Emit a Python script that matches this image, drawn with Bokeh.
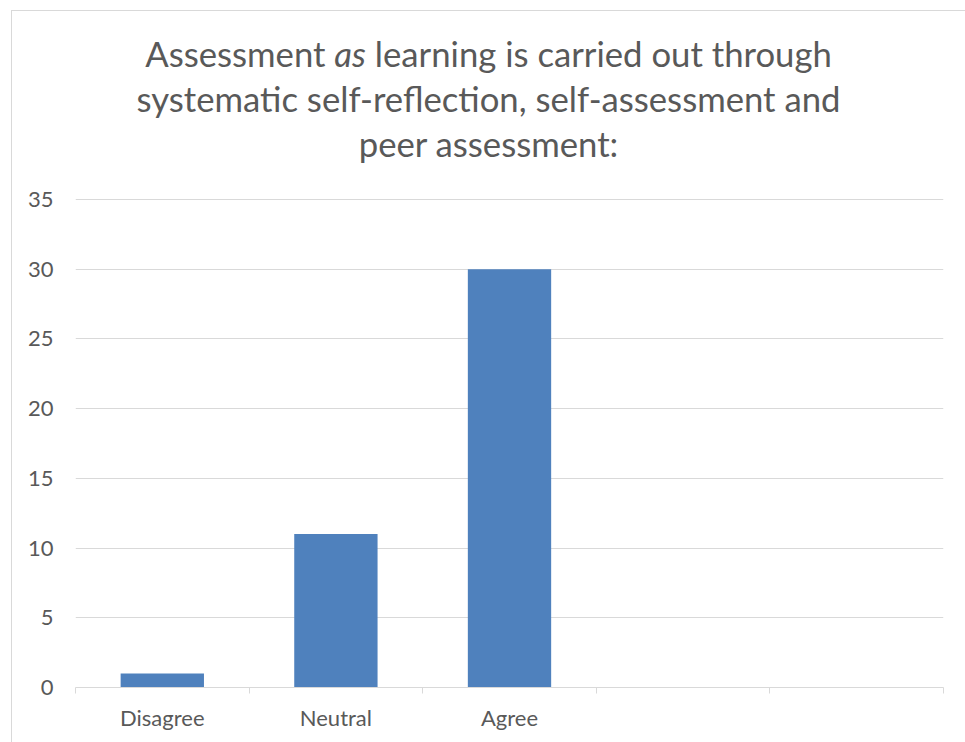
from bokeh.plotting import figure
from bokeh.models import Range1d, FixedTicker, Div
from bokeh.layouts import column
from bokeh.embed import file_html
from bokeh.resources import INLINE

# ---- data ----
categories = ["Disagree", "Neutral", "Agree", "", ""]
values = [1, 11, 30]
y_ticks = [0, 5, 10, 15, 20, 25, 30, 35]
title_lines = ["Assessment <i>as</i> learning is carried out through",
               "systematic self-reflection, self-assessment and",
               "peer assessment:"]

TEXT = "#595959"
GRID = "#d9d9d9"
BAR = "#4F81BD"
FONT = "Lato"

n = len(categories)
centers = [i + 0.5 for i in range(n)]
bounds = [float(i) for i in range(n + 1)]

title_html = (
    f'<div style="width:953px;text-align:center;font-family:{FONT};font-size:34.7px;'
    f'line-height:45px;color:{TEXT};padding-top:20px;">'
    + "<br>".join(title_lines) + "</div>"
)
div = Div(text=title_html, width=953, height=167, margin=0)

p = figure(width=953, height=564, output_backend="svg", toolbar_location=None,
           x_range=Range1d(0, n), y_range=Range1d(0, 35.07),
           min_border_left=63, min_border_right=22, min_border_top=20, min_border_bottom=55)
p.outline_line_color = None
p.background_fill_color = "white"
p.border_fill_color = "white"

p.vbar(x=centers[:len(values)], top=values, width=0.48, bottom=0,
       fill_color=BAR, line_color=None)

# x axis
xa = p.xaxis[0]
xa.ticker = FixedTicker(ticks=centers, minor_ticks=bounds)
xa.major_label_overrides = {c: lab for c, lab in zip(centers, categories)}
xa.major_tick_line_color = None
xa.major_tick_in = 0
xa.major_tick_out = 0
xa.minor_tick_in = 0
xa.minor_tick_out = 6
xa.minor_tick_line_color = GRID
xa.axis_line_color = GRID
xa.axis_line_width = 1
xa.major_label_text_font = FONT
xa.major_label_text_font_size = "22px"
xa.major_label_text_color = TEXT
xa.major_label_standoff = 10

# y axis
ya = p.yaxis[0]
ya.ticker = FixedTicker(ticks=y_ticks)
ya.axis_line_color = None
ya.major_tick_line_color = None
ya.minor_tick_line_color = None
ya.major_tick_in = 0
ya.major_tick_out = 0
ya.major_label_text_font = FONT
ya.major_label_text_font_size = "22px"
ya.major_label_text_color = TEXT
ya.major_label_standoff = 22

p.xgrid.grid_line_color = None
p.ygrid.grid_line_color = GRID
p.ygrid.ticker = FixedTicker(ticks=y_ticks[1:])

layout = column(div, p, margin=(10, 0, 0, 11),
                styles={"border-left": f"1px solid {GRID}", "border-top": f"1px solid {GRID}"})

open("out.html", "w").write(file_html(layout, INLINE))
